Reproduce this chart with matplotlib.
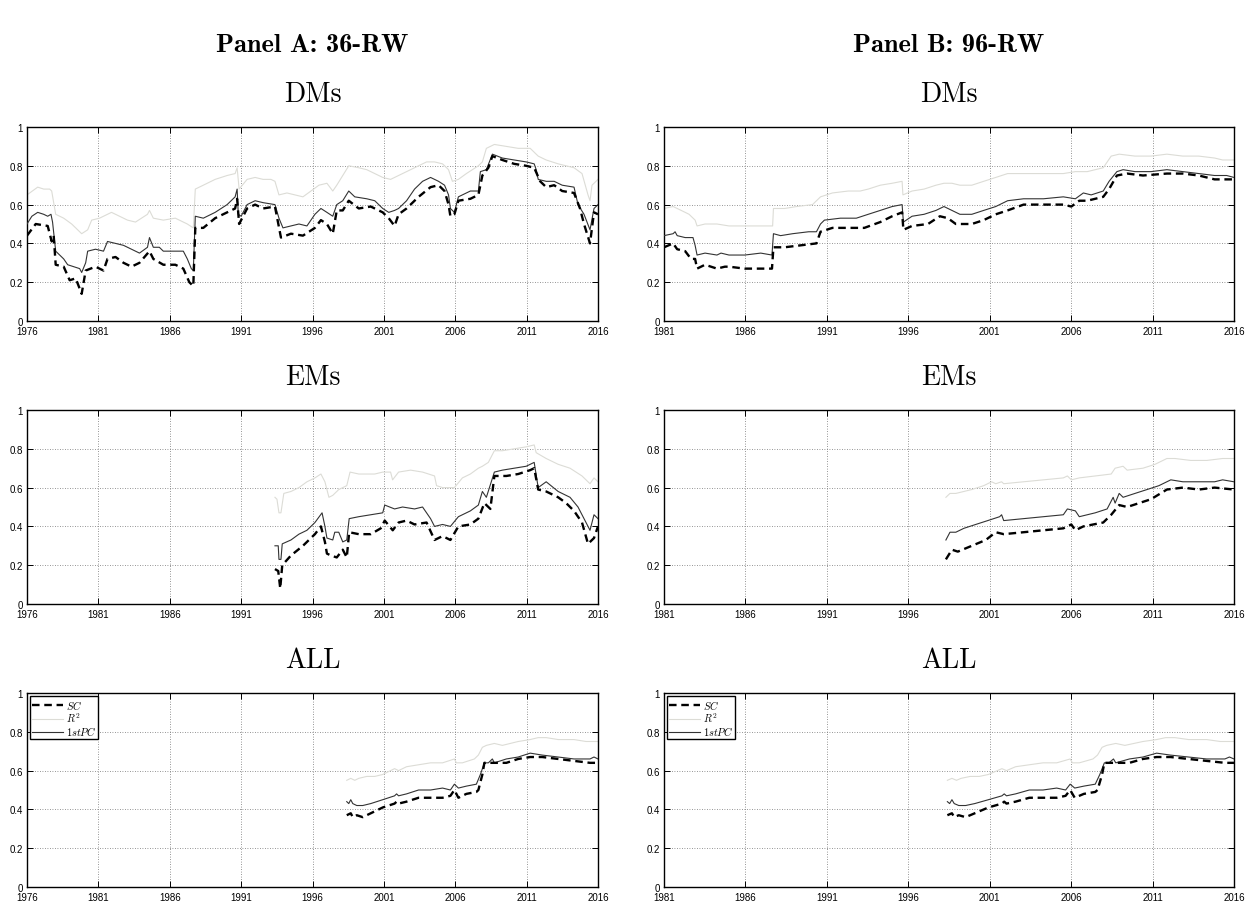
import matplotlib
matplotlib.use('Agg')
import matplotlib.pyplot as plt

# ---- data (year, value) ----
# Panel A, DMs (36-RW)
dm36_sc_t = [1976.0, 1976.61, 1977.45, 1977.73, 1977.87, 1978.01, 1978.57, 1978.99, 1979.41, 1979.83,
             1980.11, 1980.80, 1981.36, 1981.64, 1982.20, 1982.76, 1983.32, 1983.88, 1984.58, 1984.85,
             1985.55, 1986.39, 1986.95, 1987.37, 1987.65, 1987.79, 1988.35, 1989.18, 1990.02, 1990.58,
             1990.72, 1990.86, 1991.42, 1991.98, 1992.54, 1993.37, 1993.79, 1994.49, 1995.33, 1996.17,
             1996.59, 1997.01, 1997.42, 1997.70, 1998.12, 1998.54, 1999.24, 2000.08, 2000.92, 2001.34,
             2001.75, 2002.03, 2002.59, 2003.43, 2004.27, 2004.83, 2005.25, 2005.53, 2005.66, 2005.94,
             2006.22, 2007.06, 2007.62, 2007.90, 2008.32, 2008.60, 2009.30, 2010.13, 2010.97, 2011.53,
             2011.95, 2012.37, 2012.93, 2013.49, 2014.32, 2014.74, 2015.02, 2015.44, 2015.72, 2016.0]
dm36_sc = [0.44, 0.50, 0.49, 0.41, 0.44, 0.29, 0.28, 0.21, 0.22, 0.14,
           0.26, 0.28, 0.26, 0.32, 0.33, 0.30, 0.28, 0.30, 0.36, 0.32,
           0.29, 0.29, 0.27, 0.20, 0.18, 0.48, 0.48, 0.53, 0.56, 0.58,
           0.63, 0.50, 0.58, 0.60, 0.58, 0.59, 0.43, 0.45, 0.44, 0.48,
           0.52, 0.50, 0.45, 0.57, 0.57, 0.62, 0.58, 0.59, 0.56, 0.53,
           0.49, 0.55, 0.58, 0.64, 0.69, 0.70, 0.67, 0.60, 0.54, 0.55,
           0.62, 0.63, 0.65, 0.75, 0.79, 0.85, 0.83, 0.81, 0.80, 0.79,
           0.72, 0.69, 0.70, 0.67, 0.66, 0.58, 0.50, 0.40, 0.56, 0.55]
dm36_r2_t = [1976.0, 1976.75, 1977.17, 1977.59, 1977.73, 1978.01, 1978.57, 1979.13, 1979.83, 1980.25,
             1980.53, 1981.08, 1981.64, 1981.92, 1982.48, 1983.04, 1983.60, 1984.44, 1984.58, 1984.85,
             1985.55, 1986.39, 1987.23, 1987.65, 1987.79, 1988.35, 1989.18, 1990.02, 1990.58, 1990.72,
             1990.86, 1991.42, 1991.98, 1992.54, 1993.09, 1993.37, 1993.65, 1994.21, 1994.77, 1995.33,
             1995.89, 1996.45, 1997.01, 1997.42, 1997.70, 1998.54, 1999.24, 1999.80, 2000.36, 2000.92,
             2001.47, 2002.03, 2002.59, 2003.43, 2003.99, 2004.55, 2005.11, 2005.53, 2005.80, 2006.22,
             2006.78, 2007.62, 2007.90, 2008.18, 2008.74, 2009.58, 2010.41, 2011.25, 2011.81, 2012.37,
             2013.21, 2014.32, 2014.88, 2015.30, 2015.44, 2015.58, 2016.0]
dm36_r2 = [0.65, 0.69, 0.68, 0.68, 0.67, 0.55, 0.53, 0.50, 0.45, 0.47,
           0.52, 0.53, 0.55, 0.56, 0.54, 0.52, 0.51, 0.55, 0.57, 0.53,
           0.52, 0.53, 0.50, 0.48, 0.68, 0.70, 0.73, 0.75, 0.76, 0.79,
           0.68, 0.73, 0.74, 0.73, 0.73, 0.72, 0.65, 0.66, 0.65, 0.64,
           0.67, 0.70, 0.71, 0.67, 0.70, 0.80, 0.79, 0.78, 0.76, 0.74,
           0.73, 0.75, 0.77, 0.80, 0.82, 0.82, 0.81, 0.78, 0.72, 0.73,
           0.76, 0.80, 0.82, 0.89, 0.91, 0.90, 0.89, 0.89, 0.85, 0.83,
           0.81, 0.79, 0.76, 0.65, 0.62, 0.70, 0.73]
dm36_pc_t = [1976.0, 1976.34, 1976.75, 1977.17, 1977.45, 1977.68, 1977.79, 1978.01, 1978.29, 1978.57,
             1978.85, 1979.27, 1979.69, 1979.83, 1980.11, 1980.25, 1980.80, 1981.36, 1981.64, 1982.20,
             1982.76, 1983.32, 1983.88, 1984.44, 1984.58, 1984.85, 1985.27, 1985.55, 1986.39, 1986.95,
             1987.23, 1987.51, 1987.65, 1987.79, 1988.35, 1989.18, 1990.02, 1990.58, 1990.72, 1990.80,
             1991.0, 1991.42, 1991.98, 1992.54, 1993.37, 1993.65, 1993.93, 1994.49, 1995.05, 1995.61,
             1996.17, 1996.59, 1997.01, 1997.42, 1997.70, 1998.12, 1998.54, 1998.96, 1999.80, 2000.36,
             2000.92, 2001.34, 2001.75, 2002.03, 2002.59, 2003.15, 2003.71, 2004.27, 2004.83, 2005.25,
             2005.53, 2005.66, 2005.94, 2006.22, 2007.06, 2007.62, 2007.76, 2008.18, 2008.60, 2009.30,
             2010.13, 2010.97, 2011.53, 2011.67, 2011.81, 2012.37, 2012.93, 2013.49, 2014.32, 2014.60,
             2015.02, 2015.44, 2015.72, 2016.0]
dm36_pc = [0.50, 0.54, 0.56, 0.55, 0.54, 0.55, 0.51, 0.36, 0.34, 0.32,
           0.29, 0.28, 0.27, 0.25, 0.30, 0.36, 0.37, 0.36, 0.41, 0.40,
           0.39, 0.37, 0.35, 0.38, 0.43, 0.38, 0.38, 0.36, 0.36, 0.36,
           0.32, 0.27, 0.26, 0.54, 0.53, 0.56, 0.60, 0.64, 0.68, 0.55,
           0.54, 0.60, 0.62, 0.61, 0.60, 0.53, 0.48, 0.49, 0.50, 0.49,
           0.55, 0.58, 0.56, 0.54, 0.60, 0.62, 0.67, 0.64, 0.63, 0.62,
           0.58, 0.56, 0.57, 0.58, 0.62, 0.68, 0.72, 0.74, 0.72, 0.70,
           0.65, 0.58, 0.56, 0.64, 0.67, 0.67, 0.77, 0.78, 0.86, 0.84,
           0.83, 0.82, 0.81, 0.78, 0.73, 0.72, 0.72, 0.70, 0.69, 0.60,
           0.55, 0.47, 0.58, 0.60]

# Panel B, DMs (96-RW)
dm96_sc_t = [1981.0, 1981.56, 1981.81, 1982.30, 1982.66, 1982.91, 1983.03, 1983.52, 1984.25, 1984.74,
             1984.99, 1985.96, 1986.94, 1987.63, 1987.72, 1988.41, 1989.39, 1990.36, 1990.61, 1991.34,
             1992.32, 1993.30, 1994.28, 1995.01, 1995.62, 1995.70, 1996.23, 1997.21, 1997.94, 1998.43,
             1998.92, 1999.90, 2000.63, 2001.37, 2002.10, 2003.08, 2004.30, 2005.52, 2006.01, 2006.50,
             2006.99, 2007.97, 2008.33, 2008.81, 2009.44, 2010.41, 2011.88, 2012.86, 2013.84, 2014.81,
             2016.0]
dm96_sc = [0.38, 0.40, 0.37, 0.36, 0.32, 0.32, 0.27, 0.29, 0.27, 0.28,
           0.28, 0.27, 0.27, 0.27, 0.38, 0.38, 0.39, 0.40, 0.46, 0.48,
           0.48, 0.48, 0.51, 0.54, 0.56, 0.47, 0.49, 0.50, 0.54, 0.53,
           0.50, 0.50, 0.52, 0.55, 0.57, 0.60, 0.60, 0.60, 0.59, 0.62,
           0.62, 0.64, 0.68, 0.75, 0.76, 0.75, 0.76, 0.76, 0.75, 0.73,
           0.73]
dm96_r2_t = [1981.0, 1981.56, 1981.81, 1982.30, 1982.54, 1982.91, 1983.03, 1983.52, 1984.25, 1984.99,
             1985.96, 1986.94, 1987.67, 1987.72, 1988.41, 1989.14, 1990.12, 1990.61, 1991.34, 1992.32,
             1993.05, 1993.54, 1994.28, 1995.01, 1995.62, 1995.67, 1996.23, 1996.97, 1997.70, 1998.19,
             1998.68, 1999.17, 1999.90, 2000.63, 2001.37, 2002.10, 2003.08, 2004.30, 2005.52, 2006.26,
             2006.99, 2007.97, 2008.46, 2008.95, 2009.92, 2010.90, 2011.88, 2012.86, 2013.84, 2014.81,
             2015.30, 2016.0]
dm96_r2 = [0.58, 0.59, 0.58, 0.56, 0.55, 0.52, 0.49, 0.50, 0.50, 0.49,
           0.49, 0.49, 0.49, 0.58, 0.58, 0.59, 0.60, 0.64, 0.66, 0.67,
           0.67, 0.68, 0.70, 0.71, 0.72, 0.65, 0.67, 0.68, 0.70, 0.71,
           0.71, 0.70, 0.70, 0.72, 0.74, 0.76, 0.76, 0.76, 0.76, 0.77,
           0.77, 0.79, 0.85, 0.86, 0.85, 0.85, 0.86, 0.85, 0.85, 0.84,
           0.83, 0.83]
dm96_pc_t = [1981.0, 1981.56, 1981.68, 1981.81, 1982.30, 1982.78, 1982.91, 1983.03, 1983.52, 1984.25,
             1984.50, 1984.99, 1985.96, 1986.94, 1987.63, 1987.72, 1988.16, 1988.90, 1989.88, 1990.36,
             1990.61, 1990.85, 1991.83, 1992.81, 1993.54, 1994.28, 1995.01, 1995.62, 1995.70, 1996.23,
             1996.97, 1997.70, 1998.19, 1998.68, 1999.17, 1999.90, 2000.63, 2001.37, 2002.10, 2003.08,
             2004.30, 2005.52, 2006.26, 2006.75, 2007.23, 2007.97, 2008.33, 2008.81, 2009.19, 2009.92,
             2010.90, 2011.88, 2012.86, 2013.84, 2014.81, 2015.55, 2016.0]
dm96_pc = [0.44, 0.45, 0.46, 0.44, 0.43, 0.43, 0.39, 0.34, 0.35, 0.34,
           0.35, 0.34, 0.34, 0.35, 0.34, 0.45, 0.44, 0.45, 0.46, 0.46,
           0.50, 0.52, 0.53, 0.53, 0.55, 0.57, 0.59, 0.60, 0.51, 0.54,
           0.55, 0.57, 0.59, 0.57, 0.55, 0.55, 0.57, 0.59, 0.62, 0.63,
           0.63, 0.64, 0.63, 0.66, 0.65, 0.67, 0.72, 0.77, 0.78, 0.77,
           0.77, 0.78, 0.77, 0.76, 0.75, 0.75, 0.74]

# Panel A, EMs (36-RW)
em36_sc_t = [1993.37, 1993.60, 1993.74, 1993.88, 1994.49, 1995.33, 1996.17, 1996.59, 1996.87, 1997.01,
             1997.29, 1997.70, 1998.12, 1998.40, 1998.57, 1999.24, 2000.08, 2000.78, 2001.06, 2001.62,
             2002.03, 2002.59, 2003.15, 2003.99, 2004.55, 2005.11, 2005.66, 2006.22, 2007.06, 2007.62,
             2008.04, 2008.46, 2008.74, 2009.58, 2010.41, 2011.25, 2011.53, 2011.81, 2012.37, 2013.21,
             2013.77, 2014.32, 2014.88, 2015.30, 2015.72, 2016.0]
em36_sc = [0.18, 0.17, 0.08, 0.20, 0.25, 0.30, 0.36, 0.40, 0.32, 0.26,
           0.25, 0.24, 0.28, 0.24, 0.37, 0.36, 0.36, 0.39, 0.43, 0.38,
           0.42, 0.43, 0.41, 0.42, 0.33, 0.35, 0.33, 0.40, 0.41, 0.44,
           0.52, 0.49, 0.66, 0.66, 0.67, 0.69, 0.70, 0.59, 0.58, 0.55,
           0.52, 0.48, 0.42, 0.31, 0.34, 0.40]
em36_r2_t = [1993.37, 1993.51, 1993.65, 1993.79, 1993.99, 1994.49, 1995.05, 1995.61, 1996.17, 1996.59,
             1996.87, 1997.15, 1997.42, 1997.84, 1998.40, 1998.63, 1999.24, 2000.36, 2000.92, 2001.47,
             2001.61, 2002.03, 2002.87, 2003.71, 2004.55, 2004.69, 2005.11, 2005.94, 2006.50, 2007.06,
             2007.62, 2007.90, 2008.32, 2008.74, 2009.30, 2010.13, 2010.97, 2011.53, 2011.67, 2012.37,
             2013.21, 2014.04, 2014.88, 2015.44, 2015.72, 2016.0]
em36_r2 = [0.55, 0.54, 0.47, 0.47, 0.57, 0.58, 0.60, 0.63, 0.65, 0.67,
           0.63, 0.55, 0.56, 0.59, 0.61, 0.68, 0.67, 0.67, 0.68, 0.68,
           0.64, 0.68, 0.69, 0.68, 0.66, 0.61, 0.60, 0.60, 0.65, 0.67,
           0.70, 0.71, 0.73, 0.79, 0.79, 0.80, 0.81, 0.82, 0.78, 0.75,
           0.72, 0.70, 0.66, 0.62, 0.65, 0.63]
em36_pc_t = [1993.37, 1993.60, 1993.65, 1993.79, 1993.88, 1994.49, 1995.05, 1995.61, 1996.17, 1996.67,
             1996.87, 1997.01, 1997.42, 1997.56, 1997.84, 1998.12, 1998.40, 1998.57, 1999.24, 2000.08,
             2000.92, 2001.06, 2001.75, 2002.31, 2003.15, 2003.71, 2004.27, 2004.55, 2005.11, 2005.66,
             2006.22, 2007.06, 2007.62, 2007.90, 2008.18, 2008.74, 2009.30, 2010.13, 2010.97, 2011.53,
             2011.81, 2012.37, 2013.21, 2014.04, 2014.60, 2015.16, 2015.44, 2015.72, 2016.0]
em36_pc = [0.30, 0.30, 0.23, 0.23, 0.31, 0.33, 0.36, 0.38, 0.42, 0.47,
           0.40, 0.34, 0.33, 0.37, 0.37, 0.32, 0.33, 0.44, 0.45, 0.46,
           0.47, 0.51, 0.49, 0.50, 0.49, 0.50, 0.44, 0.40, 0.41, 0.40,
           0.45, 0.48, 0.51, 0.58, 0.55, 0.68, 0.69, 0.70, 0.71, 0.73,
           0.60, 0.63, 0.58, 0.55, 0.50, 0.42, 0.38, 0.46, 0.44]

# Panel B, EMs (96-RW)
em96_sc_t = [1998.31, 1998.68, 1999.04, 1999.90, 2000.76, 2001.37, 2001.86, 2003.08, 2004.30, 2005.52,
             2006.01, 2006.26, 2006.75, 2007.97, 2008.46, 2008.95, 2009.44, 2010.17, 2010.90, 2011.88,
             2012.86, 2013.84, 2014.81, 2016.0]
em96_sc = [0.23, 0.28, 0.27, 0.30, 0.33, 0.37, 0.36, 0.37, 0.38, 0.39,
           0.41, 0.38, 0.40, 0.42, 0.46, 0.51, 0.50, 0.52, 0.54, 0.59,
           0.60, 0.59, 0.60, 0.59]
em96_r2_t = [1998.31, 1998.56, 1998.92, 1999.41, 1999.90, 2000.63, 2001.12, 2001.37, 2001.73, 2001.86,
             2003.08, 2004.30, 2005.52, 2005.77, 2006.01, 2006.50, 2007.48, 2008.46, 2008.70, 2009.19,
             2009.44, 2010.41, 2011.15, 2011.88, 2012.37, 2013.35, 2014.33, 2015.30, 2016.0]
em96_r2 = [0.55, 0.57, 0.57, 0.58, 0.59, 0.61, 0.63, 0.62, 0.63, 0.62,
           0.63, 0.64, 0.65, 0.66, 0.64, 0.65, 0.66, 0.67, 0.70, 0.71,
           0.69, 0.70, 0.72, 0.75, 0.75, 0.74, 0.74, 0.75, 0.75]
em96_pc_t = [1998.31, 1998.56, 1998.92, 1999.41, 2000.14, 2000.88, 2001.61, 2001.73, 2001.86, 2003.08,
             2004.30, 2005.52, 2005.77, 2006.26, 2006.50, 2007.48, 2008.21, 2008.58, 2008.70, 2008.95,
             2009.19, 2009.92, 2010.66, 2011.39, 2012.12, 2012.86, 2013.84, 2014.81, 2015.30, 2016.0]
em96_pc = [0.33, 0.37, 0.37, 0.39, 0.41, 0.43, 0.45, 0.46, 0.43, 0.44,
           0.45, 0.46, 0.49, 0.48, 0.45, 0.47, 0.49, 0.55, 0.52, 0.57,
           0.55, 0.57, 0.59, 0.61, 0.64, 0.63, 0.63, 0.63, 0.64, 0.63]

# ALL (same curves in both panels)
all_sc_t = [1998.40, 1998.68, 1998.82, 1999.10, 1999.52, 2000.08, 2000.92, 2001.75, 2001.89, 2002.03,
            2002.59, 2003.43, 2004.27, 2005.11, 2005.66, 2005.94, 2006.22, 2006.78, 2007.48, 2007.62,
            2007.90, 2008.04, 2008.74, 2009.58, 2010.41, 2011.25, 2012.09, 2013.21, 2014.32, 2015.44,
            2016.0]
all_sc = [0.37, 0.38, 0.36, 0.37, 0.36, 0.38, 0.41, 0.43, 0.44, 0.43,
          0.44, 0.46, 0.46, 0.46, 0.47, 0.50, 0.46, 0.48, 0.49, 0.50,
          0.58, 0.64, 0.64, 0.64, 0.66, 0.67, 0.67, 0.66, 0.65, 0.64,
          0.64]
all_r2_t = [1998.40, 1998.68, 1998.96, 1999.24, 1999.80, 2000.36, 2000.92, 2001.47, 2001.75, 2002.03,
            2002.59, 2003.43, 2004.27, 2005.11, 2005.53, 2005.94, 2006.08, 2006.50, 2007.34, 2007.62,
            2007.90, 2008.18, 2008.74, 2009.30, 2010.41, 2011.25, 2011.81, 2012.37, 2013.21, 2014.32,
            2015.16, 2016.0]
all_r2 = [0.55, 0.56, 0.55, 0.56, 0.57, 0.57, 0.58, 0.60, 0.61, 0.60,
          0.62, 0.63, 0.64, 0.64, 0.65, 0.66, 0.64, 0.64, 0.66, 0.68,
          0.72, 0.73, 0.74, 0.73, 0.75, 0.76, 0.77, 0.77, 0.76, 0.76,
          0.75, 0.75]
all_pc_t = [1998.40, 1998.54, 1998.68, 1998.82, 1999.10, 1999.52, 2000.08, 2000.92, 2001.75, 2001.89,
            2002.03, 2002.59, 2003.43, 2004.27, 2005.11, 2005.66, 2005.94, 2006.22, 2006.78, 2007.48,
            2007.76, 2008.04, 2008.32, 2008.60, 2008.74, 2009.58, 2010.41, 2011.25, 2012.09, 2013.21,
            2014.32, 2015.44, 2015.72, 2016.0]
all_pc = [0.44, 0.43, 0.45, 0.43, 0.42, 0.42, 0.43, 0.45, 0.47, 0.48,
          0.47, 0.48, 0.50, 0.50, 0.51, 0.50, 0.53, 0.51, 0.52, 0.53,
          0.58, 0.64, 0.64, 0.66, 0.64, 0.66, 0.67, 0.69, 0.68, 0.67,
          0.66, 0.66, 0.67, 0.66]

yticks = [0, 0.2, 0.4, 0.6, 0.8, 1]
ytick_labels = ['0', '0.2', '0.4', '0.6', '0.8', '1']

plt.rcParams['mathtext.fontset'] = 'cm'
plt.rcParams['font.family'] = ['Liberation Sans', 'DejaVu Sans']
plt.rcParams['axes.unicode_minus'] = False

fig = plt.figure(figsize=(12.5, 9.12), dpi=100)


def draw(pos, title, start, sc_t, sc, r2_t, r2, pc_t, pc, legend=False):
    ax = fig.add_axes(pos)
    ax.plot(sc_t, sc, color='black', lw=1.7, ls=(0, (3.2, 2.0)), label='$SC$', zorder=4)
    ax.plot(r2_t, r2, color='#dcdcd6', lw=0.8, label='$R^2$', zorder=2)
    ax.plot(pc_t, pc, color='#333333', lw=0.8, label='$1stPC$', zorder=3)
    ax.set_xlim(start, 2016)
    ax.set_ylim(0, 1)
    ax.set_xticks(range(start, 2017, 5))
    ax.set_yticks(yticks)
    ax.set_yticklabels(ytick_labels)
    ax.tick_params(direction='in', top=True, right=True, length=4, width=0.7, labelsize=7)
    ax.tick_params(axis='y', pad=3)
    ax.tick_params(axis='x', pad=3.5)
    ax.grid(True, ls=(0, (1, 2)), color='0.45', lw=0.6)
    for s in ax.spines.values():
        s.set_linewidth(1.0)
    ax.set_title(title, fontfamily='cmr10', fontsize=20, pad=19)
    if legend:
        leg = ax.legend(loc='upper left', fontsize=7.5, handlelength=3.0, handletextpad=0.25,
                        labelspacing=0.0, borderpad=0.15, borderaxespad=0.3, fancybox=False,
                        framealpha=1)
        leg.get_frame().set_edgecolor('black')
        leg.get_frame().set_linewidth(1.0)
    return ax


# axes boxes in figure fractions (from pixel positions of the reference)
W, H = 1250.0, 912.0
left_x, left_w = 27 / W, 571 / W
right_x, right_w = 664 / W, 570 / W
ax_h = 194 / H
rows = [(H - 322) / H, (H - 605) / H, (H - 888) / H]

draw([left_x, rows[0], left_w, ax_h], 'DMs', 1976, dm36_sc_t, dm36_sc, dm36_r2_t, dm36_r2, dm36_pc_t, dm36_pc)
draw([right_x, rows[0], right_w, ax_h], 'DMs', 1981, dm96_sc_t, dm96_sc, dm96_r2_t, dm96_r2, dm96_pc_t, dm96_pc)
draw([left_x, rows[1], left_w, ax_h], 'EMs', 1976, em36_sc_t, em36_sc, em36_r2_t, em36_r2, em36_pc_t, em36_pc)
draw([right_x, rows[1], right_w, ax_h], 'EMs', 1981, em96_sc_t, em96_sc, em96_r2_t, em96_r2, em96_pc_t, em96_pc)
draw([left_x, rows[2], left_w, ax_h], 'ALL', 1976, all_sc_t, all_sc, all_r2_t, all_r2, all_pc_t, all_pc, legend=True)
draw([right_x, rows[2], right_w, ax_h], 'ALL', 1981, all_sc_t, all_sc, all_r2_t, all_r2, all_pc_t, all_pc, legend=True)

fig.text(left_x + left_w / 2, 1 - 45 / H, 'Panel A: 36-RW', fontfamily='cmb10', fontsize=19,
         ha='center', va='center')
fig.text(right_x + right_w / 2, 1 - 45 / H, 'Panel B: 96-RW', fontfamily='cmb10', fontsize=19,
         ha='center', va='center')

fig.savefig('out.png', dpi=100)
